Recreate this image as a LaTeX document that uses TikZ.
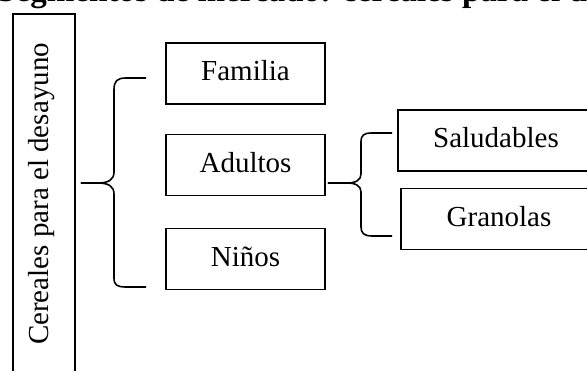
\documentclass[tikz,border=0pt]{standalone}
\usepackage{fontspec}
\setmainfont{Liberation Serif}
\begin{document}
\begin{tikzpicture}[x=1pt,y=-1pt,
  txt/.style={font=\fontsize{29}{34}\selectfont},
  segbox/.style={draw, line width=1.6pt, txt, inner sep=0pt, text height=20pt, text depth=5pt,
                 minimum width=159pt, minimum height=61pt},
  subbox/.style={segbox, minimum width=196pt},
  brace/.style={draw, line width=1.6pt, line join=round}]
\useasboundingbox (0,0) rectangle (587,371);
\clip (0,0) rectangle (587,371);

% heading, partly cut off at the top edge
\node[anchor=base west, inner sep=0pt, font=\bfseries\fontsize{33.1}{40}\selectfont] (title) at (-3,1.5)
  {Segmentos de mercado: cereales para el desayuno};

% tall column with the product category
\node[draw, line width=1.6pt, rotate=90, txt, inner sep=0pt, text height=20pt, text depth=12pt,
      minimum width=360pt, minimum height=62pt] (cereal) at (44,194) {Cereales para el desayuno};

% segments
\node[segbox] (familia) at (245.5,73.5) {Familia};
\node[segbox] (adultos) at (245.5,165) {Adultos};
\node[segbox] (ninos)   at (245.5,259) {Niños};

% sub-segments of adults
\node[subbox] (saludables) at (496,140.5) {Saludables};
\node[subbox] (granolas)   at (499,219)   {Granolas};

% brace from the category to the segments
\coordinate (b1tip) at ([xshift=5pt]cereal.south |- 0,183);
\coordinate (b1top) at ([xshift=-19pt]familia.west |- 0,78);
\coordinate (b1bot) at ([xshift=-19pt]ninos.west |- 0,287);
\draw[brace] (b1top) -- (126,78) .. controls (117,78) and (114,81) .. (114,90)
  -- (114,172) .. controls (114,180) and (108,183) .. (98,183) -- (b1tip);
\draw[brace] (b1tip) -- (98,183) .. controls (108,183) and (114,186) .. (114,194)
  -- (114,278) .. controls (114,285) and (117,287) .. (126,287) -- (b1bot);

% brace from adults to the sub-segments
\coordinate (b2tip) at ([xshift=2pt]adultos.east |- 0,183);
\coordinate (b2top) at ([xshift=-5pt]saludables.west |- 0,133);
\coordinate (b2bot) at ([xshift=-8pt]granolas.west |- 0,236);
\draw[brace] (b2top) -- (372,133) .. controls (364,133) and (361,135) .. (361,142)
  -- (361,174) .. controls (361,180) and (356,183) .. (347,183) -- (b2tip);
\draw[brace] (b2tip) -- (347,183) .. controls (356,183) and (361,186) .. (361,192)
  -- (361,227) .. controls (361,233) and (364,236) .. (372,236) -- (b2bot);
\end{tikzpicture}
\end{document}
